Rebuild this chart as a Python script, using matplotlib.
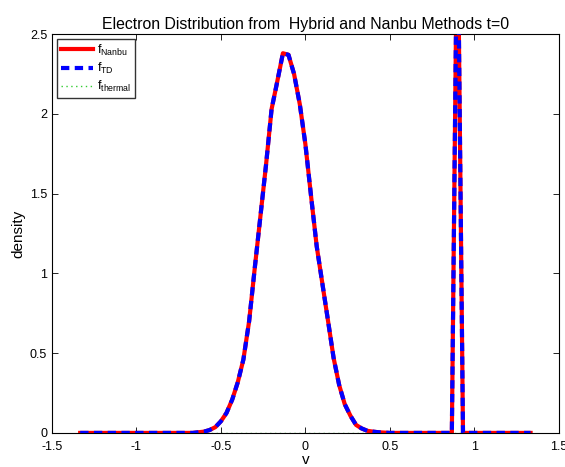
import matplotlib
matplotlib.use('Agg')
import matplotlib.pyplot as plt

plt.rcParams['font.family'] = ['Liberation Sans', 'DejaVu Sans']
plt.rcParams['mathtext.fontset'] = 'custom'
plt.rcParams['mathtext.rm'] = 'Liberation Sans'
plt.rcParams['axes.unicode_minus'] = False

# velocity grid
v = [-1.333, -1.300, -1.267, -1.233, -1.200, -1.167, -1.133, -1.100, -1.067, -1.033,
     -1.000, -0.967, -0.933, -0.900, -0.867, -0.833, -0.800, -0.767, -0.733, -0.700,
     -0.667, -0.633, -0.600, -0.567, -0.533, -0.500, -0.467, -0.433, -0.400, -0.367,
     -0.333, -0.300, -0.267, -0.233, -0.200, -0.167, -0.133, -0.100, -0.067, -0.033,
     0.000, 0.033, 0.067, 0.100, 0.133, 0.167, 0.200, 0.233, 0.267, 0.300,
     0.333, 0.367, 0.400, 0.433, 0.467, 0.500, 0.533, 0.567, 0.600, 0.633,
     0.667, 0.700, 0.733, 0.767, 0.800, 0.833, 0.867, 0.900, 0.933, 0.967,
     1.000, 1.033, 1.067, 1.100, 1.133, 1.167, 1.200, 1.233, 1.267, 1.300,
     1.333]

f_nanbu = [0, 0, 0, 0, 0, 0, 0, 0, 0, 0,
           0, 0, 0, 0, 0, 0, 0, 0, 0, 0,
           0, 0.004, 0.008, 0.018, 0.036, 0.073, 0.125, 0.209, 0.318, 0.46,
           0.70, 1.03, 1.35, 1.68, 2.03, 2.20, 2.38, 2.37, 2.25, 2.06,
           1.81, 1.49, 1.17, 0.94, 0.71, 0.47, 0.30, 0.18, 0.107, 0.05,
           0.028, 0.013, 0.008, 0.004, 0.002, 0, 0, 0, 0, 0,
           0, 0, 0, 0, 0, 0, 0, 3.4, 0, 0,
           0, 0, 0, 0, 0, 0, 0, 0, 0, 0,
           0]

# TD solution lies on top of the Nanbu one
f_td = [0, 0, 0, 0, 0, 0, 0, 0, 0, 0,
        0, 0, 0, 0, 0, 0, 0, 0, 0, 0,
        0, 0.004, 0.008, 0.018, 0.036, 0.073, 0.125, 0.209, 0.318, 0.46,
        0.70, 1.03, 1.35, 1.68, 2.03, 2.20, 2.38, 2.37, 2.25, 2.06,
        1.81, 1.49, 1.17, 0.94, 0.71, 0.47, 0.30, 0.18, 0.107, 0.05,
        0.028, 0.013, 0.008, 0.004, 0.002, 0, 0, 0, 0, 0,
        0, 0, 0, 0, 0, 0, 0, 3.4, 0, 0,
        0, 0, 0, 0, 0, 0, 0, 0, 0, 0,
        0]

f_thermal = [0] * len(v)

fig = plt.figure(figsize=(5.65, 4.67), dpi=100)
ax = fig.add_axes([0.092, 0.073, 0.897, 0.854])

ax.plot(v, f_nanbu, color='red', linewidth=3, label=r'f$_{\mathrm{Nanbu}}$', zorder=2)
ax.plot(v, f_td, color='blue', linewidth=3, linestyle=(0, (2, 1.3)),
        label=r'f$_{\mathrm{TD}}$', zorder=3)
ax.plot(v, f_thermal, color='#33cc33', linewidth=1, linestyle=(0, (1, 2.5)),
        label=r'f$_{\mathrm{thermal}}$', zorder=1)

ax.set_xlim(-1.5, 1.5)
ax.set_ylim(0, 2.5)
ax.set_xticks([-1.5, -1, -0.5, 0, 0.5, 1, 1.5])
ax.set_xticklabels(['-1.5', '-1', '-0.5', '0', '0.5', '1', '1.5'])
ax.set_yticks([0, 0.5, 1, 1.5, 2, 2.5])
ax.set_yticklabels(['0', '0.5', '1', '1.5', '2', '2.5'])
ax.tick_params(direction='in', top=True, right=True, labelsize=9, length=4, width=0.6)
ax.tick_params(axis='x', pad=6)
for s in ax.spines.values():
    s.set_linewidth(0.8)

ax.set_xlabel('v', fontsize=11, labelpad=0)
ax.set_ylabel('density', fontsize=11, labelpad=3)
ax.set_title('Electron Distribution from  Hybrid and Nanbu Methods t=0', fontsize=11.4, pad=4)

leg = ax.legend(loc='upper left', fontsize=9, handlelength=2.6, borderpad=0.3,
                labelspacing=0.25, handletextpad=0.3, fancybox=False,
                borderaxespad=0.4)
leg.get_frame().set_edgecolor('black')
leg.get_frame().set_linewidth(1)

plt.savefig('out.png', dpi=100)
